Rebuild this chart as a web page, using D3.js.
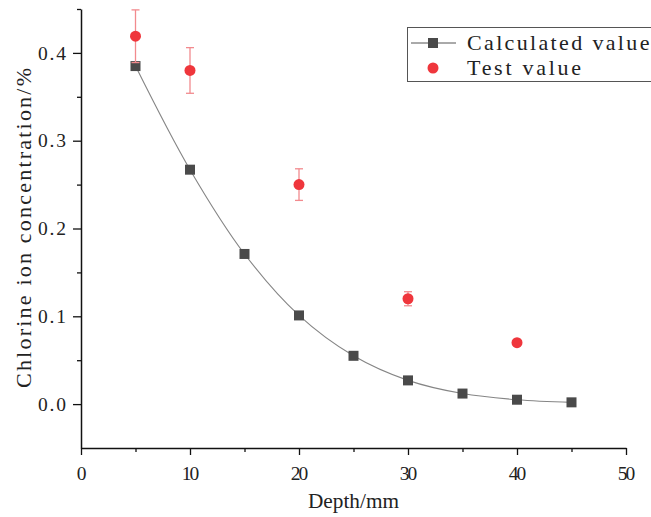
<!DOCTYPE html>
<html>
<head>
<meta charset="utf-8">
<script src="https://cdn.jsdelivr.net/npm/d3@7"></script>
<style>
  body { margin: 0; background: #fff; }
  text { font-family: "Liberation Serif", "DejaVu Serif", serif; fill: #222; }
</style>
</head>
<body>
<div id="chart"></div>
<script>
// calculated curve
var calcDepth = [5, 10, 15, 20, 25, 30, 35, 40, 45];
var calcValue = [0.385, 0.267, 0.171, 0.101, 0.055, 0.027, 0.012, 0.005, 0.002];

// measured points with error
var testDepth = [5, 10, 20, 30, 40];
var testValue = [0.419, 0.380, 0.250, 0.120, 0.070];
var testError = [0.030, 0.026, 0.018, 0.008, 0.003];

var xTicks = [0, 10, 20, 30, 40, 50];
var yTicks = [0.0, 0.1, 0.2, 0.3, 0.4];
var legendLabels = ["Calculated value", "Test value"];

var width = 651, height = 517;
var margin = { left: 81, right: 25, top: 9, bottom: 69 };

var svg = d3.select("#chart").append("svg")
            .attr("width", width)
            .attr("height", height);

var x = d3.scaleLinear().domain([0, 50]).range([margin.left, width - margin.right]);
var y = d3.scaleLinear().domain([-0.05, 0.45]).range([height - margin.bottom, margin.top]);

// minor ticks first
var xMinor = d3.range(0, 51, 5).filter(function (d) { return d % 10 !== 0; });
var yMinor = d3.range(-0.05, 0.46, 0.1).map(function (d) { return +d.toFixed(2); });

svg.append("g")
   .attr("transform", "translate(0," + y(-0.05) + ")")
   .call(d3.axisBottom(x).tickValues(xMinor).tickSize(4).tickFormat(""))
   .call(function (g) { g.select(".domain").remove(); });

svg.append("g")
   .attr("transform", "translate(" + x(0) + ",0)")
   .call(d3.axisLeft(y).tickValues(yMinor.filter(function (d) { return d > -0.05; })).tickSize(4).tickFormat(""))
   .call(function (g) { g.select(".domain").remove(); });

// main axes
var xAxis = svg.append("g")
   .attr("transform", "translate(0," + y(-0.05) + ")")
   .call(d3.axisBottom(x).tickValues(xTicks).tickSize(7).tickSizeOuter(0).tickPadding(11));

var yAxis = svg.append("g")
   .attr("transform", "translate(" + x(0) + ",0)")
   .call(d3.axisLeft(y).tickValues(yTicks).tickSize(8).tickSizeOuter(0).tickPadding(7)
          .tickFormat(d3.format(".1f")));

svg.selectAll(".domain").attr("stroke", "#111").attr("stroke-width", 1.5);
svg.selectAll(".tick line").attr("stroke", "#111").attr("stroke-width", 1.3);
svg.selectAll(".tick text")
   .style("font-family", "Liberation Serif, serif")
   .style("font-size", "19.5px")
   .attr("fill", "#222");

// stretch tick label letters a bit, like the monospace original
yAxis.selectAll(".tick text").attr("textLength", 28).attr("lengthAdjust", "spacing");
xAxis.selectAll(".tick text").attr("textLength", function (d) { return String(d).length * 8.7; })
     .attr("lengthAdjust", "spacing");

// axis titles
svg.append("text")
   .attr("x", x(25))
   .attr("y", 508)
   .attr("text-anchor", "middle")
   .style("font-size", "22px")
   .attr("textLength", 91)
   .attr("lengthAdjust", "spacingAndGlyphs")
   .text("Depth/mm");

svg.append("text")
   .attr("transform", "translate(31," + 228 + ") rotate(-90)")
   .attr("text-anchor", "middle")
   .style("font-size", "22px")
   .attr("textLength", 320)
   .attr("lengthAdjust", "spacing")
   .text("Chlorine ion concentration/%");

// calculated line + squares
var calcData = d3.zip(calcDepth, calcValue);
var line = d3.line()
             .x(function (d) { return x(d[0]); })
             .y(function (d) { return y(d[1]); })
             .curve(d3.curveCatmullRom);

svg.append("path")
   .datum(calcData)
   .attr("d", line)
   .attr("fill", "none")
   .attr("stroke", "#858585")
   .attr("stroke-width", 1.1);

var sq = 10;
svg.selectAll("rect.calc")
   .data(calcData)
   .enter().append("rect")
   .attr("class", "calc")
   .attr("x", function (d) { return x(d[0]) - sq / 2; })
   .attr("y", function (d) { return y(d[1]) - sq / 2; })
   .attr("width", sq)
   .attr("height", sq)
   .attr("fill", "#4a4a4a");

// test points with error bars
var testData = d3.zip(testDepth, testValue, testError);
var errCol = "#f28a8e";
var bars = svg.selectAll("g.err")
   .data(testData)
   .enter().append("g")
   .attr("class", "err");

bars.append("line")
    .attr("x1", function (d) { return x(d[0]); })
    .attr("x2", function (d) { return x(d[0]); })
    .attr("y1", function (d) { return y(d[1] - d[2]); })
    .attr("y2", function (d) { return y(d[1] + d[2]); })
    .attr("stroke", errCol).attr("stroke-width", 1.3);

bars.selectAll("line.cap")
    .data(function (d) { return [[d[0], d[1] - d[2]], [d[0], d[1] + d[2]]]; })
    .enter().append("line")
    .attr("class", "cap")
    .attr("x1", function (d) { return x(d[0]) - 4; })
    .attr("x2", function (d) { return x(d[0]) + 4; })
    .attr("y1", function (d) { return y(d[1]); })
    .attr("y2", function (d) { return y(d[1]); })
    .attr("stroke", errCol).attr("stroke-width", 1.3);

svg.selectAll("circle.test")
   .data(testData)
   .enter().append("circle")
   .attr("class", "test")
   .attr("cx", function (d) { return x(d[0]); })
   .attr("cy", function (d) { return y(d[1]); })
   .attr("r", 5.5)
   .attr("fill", "#ef363c");

// legend
var legend = svg.append("g");
legend.append("rect")
      .attr("x", 407.5).attr("y", 27.5)
      .attr("width", 260).attr("height", 54)
      .attr("fill", "#fff")
      .attr("stroke", "#555").attr("stroke-width", 1);

legend.append("line")
      .attr("x1", 411).attr("x2", 456).attr("y1", 43).attr("y2", 43)
      .attr("stroke", "#555").attr("stroke-width", 1);
legend.append("rect")
      .attr("x", 428).attr("y", 38).attr("width", sq).attr("height", sq)
      .attr("fill", "#4a4a4a");
legend.append("circle")
      .attr("cx", 433).attr("cy", 68).attr("r", 5.5)
      .attr("fill", "#ef363c");

legend.selectAll("text.leg")
      .data(legendLabels)
      .enter().append("text")
      .attr("class", "leg")
      .attr("x", 467)
      .attr("y", function (d, i) { return 50 + i * 25; })
      .style("font-size", "22px")
      .attr("textLength", function (d) { return d.length * 11.4; })
      .attr("lengthAdjust", "spacing")
      .text(function (d) { return d; });
</script>
</body>
</html>
